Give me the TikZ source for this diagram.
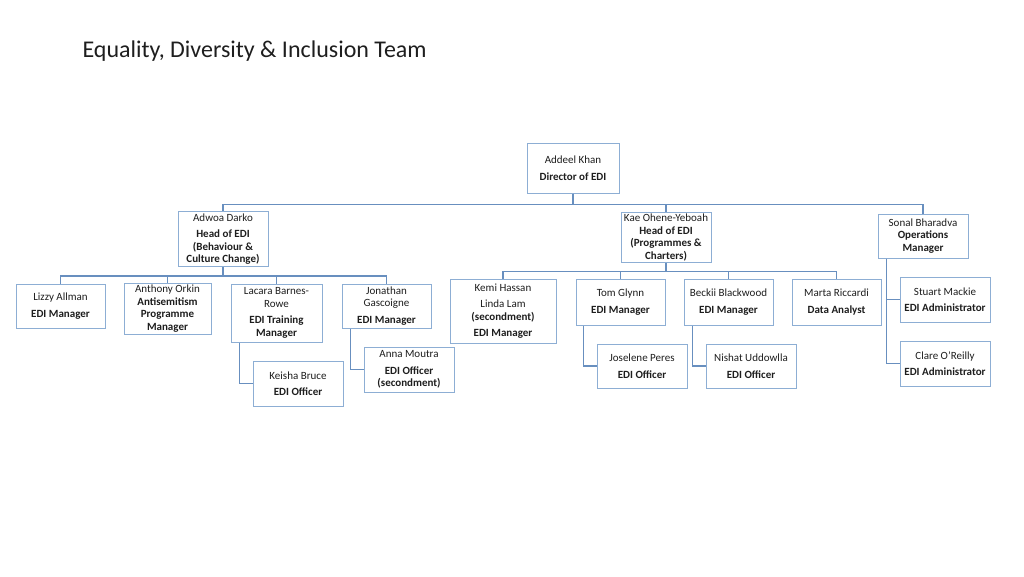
\documentclass[tikz,border=0pt]{standalone}
\usepackage{fontspec}
\setmainfont{Carlito}
\usepackage{xcolor}
\definecolor{boxline}{RGB}{141,174,212}
\definecolor{linkline}{RGB}{104,143,191}
\definecolor{inktext}{RGB}{30,30,30}
\tikzstyle{post}=[rectangle, draw=boxline, line width=1pt, fill=white, minimum width=90pt, inner sep=2pt, align=center, text=inktext, font=\fontsize{11}{12.5}\selectfont]
\tikzstyle{link}=[draw=linkline, line width=1.1pt]
\tikzset{heading/.style={anchor=base west, text=inktext, font=\fontsize{24}{28}\selectfont}}

\begin{document}
\begin{tikzpicture}[x=1pt,y=-1pt]
  \useasboundingbox (0,0) rectangle (1024,576);
  \draw (79,57) node[heading] (title) {Equality, Diversity \& Inclusion Team};

  %% Director and heads
  \draw (573,168) node[post,minimum width=92pt,minimum height=50pt] (addeel) {Addeel Khan\\[5pt]\bfseries Director of EDI};
  \draw (223,239) node[post,minimum height=52pt] (adwoa) {Adwoa Darko\\[4pt]\bfseries Head of EDI\\\bfseries (Behaviour \&\\\bfseries Culture Change)};
  \draw (666,237.5) node[post,minimum height=49pt] (kae) {Kae Ohene-Yeboah\\\bfseries Head of EDI\\\bfseries (Programmes \&\\\bfseries Charters)};
  \draw (923,236) node[post,minimum height=44pt] (sonal) {Sonal Bharadva\\\bfseries Operations\\\bfseries Manager};

  %% Behaviour & Culture Change
  \draw (60.5,306) node[post,minimum width=89pt,minimum height=44pt] (lizzy) {Lizzy Allman\\[4pt]\bfseries EDI Manager};
  \draw (167.5,308.5) node[post,minimum width=87pt,minimum height=49pt] (anthony) {Anthony Orkin\\\bfseries Antisemitism\\\bfseries Programme\\\bfseries Manager};
  \draw (276.5,313) node[post,minimum width=91pt,minimum height=58pt] (lacara) {Lacara Barnes-\\Rowe\\[4pt]\bfseries EDI Training\\\bfseries Manager};
  \draw (386.5,306) node[post,minimum width=89pt,minimum height=44pt] (jonathan) {Jonathan\\Gascoigne\\[4pt]\bfseries EDI Manager};
  \draw (298,383.5) node[post,minimum height=45pt] (keisha) {Keisha Bruce\\[4pt]\bfseries EDI Officer};
  \draw (409,369.5) node[post,minimum height=45pt] (anna) {Anna Moutra\\[4pt]\bfseries EDI Officer\\\bfseries (secondment)};

  %% Programmes & Charters
  \draw (503,311) node[post,minimum width=106pt,minimum height=64pt] (kemi) {Kemi Hassan\\[4pt]Linda Lam\\\bfseries (secondment)\\[4pt]\bfseries EDI Manager};
  \draw (620.5,302) node[post,minimum width=89pt,minimum height=46pt] (tom) {Tom Glynn\\[4pt]\bfseries EDI Manager};
  \draw (728.5,302) node[post,minimum width=89pt,minimum height=46pt] (beckii) {Beckii Blackwood\\[4pt]\bfseries EDI Manager};
  \draw (836.5,302) node[post,minimum width=89pt,minimum height=46pt] (marta) {Marta Riccardi\\[4pt]\bfseries Data Analyst};
  \draw (642,366) node[post,minimum height=44pt] (joselene) {Joselene Peres\\[4pt]\bfseries EDI Officer};
  \draw (751,366) node[post,minimum height=44pt] (nishat) {Nishat Uddowlla\\[4pt]\bfseries EDI Officer};

  %% Operations
  \draw (945,299.5) node[post,minimum height=45pt] (stuart) {Stuart Mackie\\[4pt]\bfseries EDI Administrator};
  \draw (945,363.5) node[post,minimum height=45pt] (clare) {Clare O’Reilly\\[4pt]\bfseries EDI Administrator};

  %% Links
  \draw[link] (addeel.south) -- ++(0,11) -| (adwoa.north);
  \draw[link] (addeel.south) -- ++(0,11) -| (kae.north);
  \draw[link] (addeel.south) -- ++(0,11) -| (sonal.north);

  \draw[link] (adwoa.south) -- ++(0,9) -| (lizzy.north);
  \draw[link] (adwoa.south) -- ++(0,9) -| (anthony.north);
  \draw[link] (adwoa.south) -- ++(0,9) -| (lacara.north);
  \draw[link] (adwoa.south) -- ++(0,9) -| (jonathan.north);
  \draw[link] ([xshift=9pt]lacara.south west) |- (keisha.west);
  \draw[link] ([xshift=9pt]jonathan.south west) |- (anna.west);

  \draw[link] (kae.south) -- ++(0,8) -| (kemi.north);
  \draw[link] (kae.south) -- ++(0,8) -| (tom.north);
  \draw[link] (kae.south) -- ++(0,8) -| (beckii.north);
  \draw[link] (kae.south) -- ++(0,8) -| (marta.north);
  \draw[link] ([xshift=8pt]tom.south west) |- (joselene.west);
  \draw[link] ([xshift=9pt]beckii.south west) |- (nishat.west);

  \draw[link] ([xshift=9pt]sonal.south west) |- (stuart.west);
  \draw[link] ([xshift=9pt]sonal.south west) |- (clare.west);
\end{tikzpicture}
\end{document}
